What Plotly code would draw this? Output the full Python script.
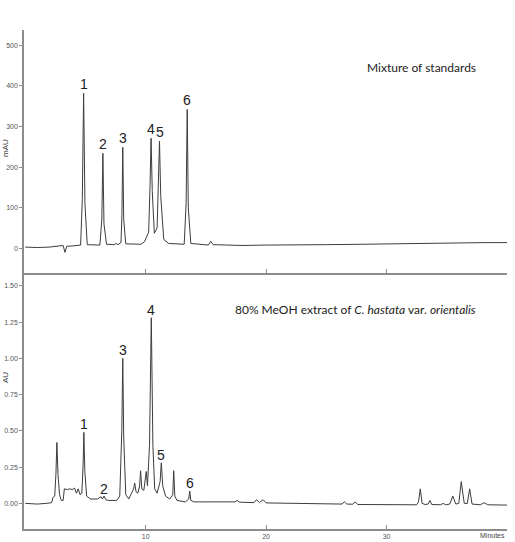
import plotly.graph_objects as go

# ---- data ----
std_time = [
    0.0, 1.0, 2.0, 2.8, 3.15, 3.3, 3.45, 4.0, 4.6, 4.74,
    4.85, 4.96, 5.15, 6.2, 6.36, 6.45, 6.54, 6.75, 7.4, 7.55,
    7.7, 7.95, 8.03, 8.1, 8.18, 8.35, 9.6, 9.9, 10.25, 10.36,
    10.45, 10.55, 10.72, 10.95, 11.06, 11.15, 11.25, 11.5, 11.9, 13.2,
    13.36, 13.45, 13.54, 13.75, 15.2, 15.4, 15.6, 18.0, 20.0, 22.0,
    25.0, 28.0, 30.0, 33.0, 36.0, 38.0, 40.0]
std_mau = [
    3, 2, 3, 5, 7, -10, 5, 6, 8, 120,
    382, 110, 9, 8, 70, 234, 60, 10, 9, 12,
    9, 14, 80, 249, 70, 11, 10, 16, 40, 150,
    271, 140, 37, 50, 150, 264, 130, 22, 12, 10,
    110, 342, 100, 12, 8, 17, 9, 7, 8, 9,
    9, 10, 11, 12, 13, 14, 14]

ext_time = [
    0.0, 1.0, 1.8, 2.2, 2.3, 2.45, 2.55, 2.63, 2.72, 2.85,
    3.0, 3.15, 3.25, 3.5, 3.7, 3.9, 4.1, 4.25, 4.4, 4.55,
    4.7, 4.8, 4.87, 4.95, 5.1, 5.4, 6.0, 6.3, 6.42, 6.55,
    6.7, 6.9, 7.6, 7.85, 8.02, 8.1, 8.18, 8.35, 8.6, 8.8,
    9.0, 9.09, 9.2, 9.35, 9.5, 9.58, 9.68, 9.85, 9.97, 10.05,
    10.15, 10.32, 10.47, 10.6, 10.75, 10.95, 11.2, 11.3, 11.42, 11.65,
    12.0, 12.25, 12.33, 12.42, 12.6, 13.3, 13.58, 13.66, 13.75, 14.0,
    15.0, 17.4, 17.6, 17.8, 19.0, 19.2, 19.45, 19.75, 20.0, 22.0,
    24.0, 26.3, 26.5, 26.7, 27.2, 27.4, 27.6, 30.0, 32.5, 32.65,
    32.8, 32.95, 33.2, 33.45, 33.6, 33.75, 34.5, 34.7, 34.9, 35.25,
    35.5, 35.75, 36.0, 36.2, 36.45, 36.7, 36.9, 37.1, 37.8, 38.1,
    38.4, 40.0]
ext_au = [
    0.0, -0.005, 0.0, 0.005, 0.04, 0.05, 0.2, 0.42, 0.2, 0.06,
    0.02, 0.02, 0.10, 0.095, 0.10, 0.095, 0.105, 0.07, 0.10, 0.06,
    0.07, 0.25, 0.49, 0.22, 0.05, 0.03, 0.03, 0.045, 0.03, 0.05,
    0.025, 0.02, 0.02, 0.05, 0.5, 1.00, 0.45, 0.06, 0.03, 0.06,
    0.10, 0.14, 0.08, 0.07, 0.12, 0.225, 0.10, 0.09, 0.15, 0.22,
    0.12, 0.4, 1.28, 0.4, 0.10, 0.07, 0.15, 0.28, 0.12, 0.05,
    0.03, 0.06, 0.225, 0.05, 0.02, 0.01, 0.03, 0.085, 0.02, 0.01,
    0.01, 0.01, 0.02, 0.008, 0.005, 0.025, 0.005, 0.025, 0.003, 0.0,
    -0.002, -0.005, 0.01, -0.005, -0.006, 0.01, -0.008, -0.01, -0.01, 0.01,
    0.10, 0.0, -0.008, -0.005, 0.02, -0.008, -0.01, 0.0, -0.01, -0.005,
    0.05, -0.005, 0.0, 0.15, 0.0, -0.002, 0.10, -0.005, -0.01, 0.005,
    -0.01, -0.012]

peak_labels = ["1", "2", "3", "4", "5", "6"]
std_peak_times = [4.85, 6.45, 8.1, 10.45, 11.15, 13.45]
std_peak_heights = [382, 234, 249, 271, 264, 342]
ext_peak_times = [4.87, 6.5, 8.1, 10.47, 11.3, 13.66]
ext_peak_heights = [0.49, 0.045, 1.00, 1.28, 0.28, 0.085]

x_ticks = [10, 20, 30]
std_y_ticks = [0, 100, 200, 300, 400, 500]
ext_y_ticks = [0, 0.25, 0.5, 0.75, 1.0, 1.25, 1.5]

top_text = "Mixture of standards"
bottom_text = "80% MeOH extract of <i>C. hastata</i> var. <i>orientalis</i>"

# ---- figure ----
LINE = "#3c3c3c"
AXIS = "#8c8c8c"
TICKFONT = dict(family="Liberation Sans Narrow, Liberation Sans, Arial", size=7, color="#555555")

fig = go.Figure()
fig.add_trace(go.Scatter(x=std_time, y=std_mau, mode="lines",
                         line=dict(color=LINE, width=1), xaxis="x", yaxis="y",
                         hoverinfo="skip", showlegend=False))
fig.add_trace(go.Scatter(x=ext_time, y=ext_au, mode="lines",
                         line=dict(color=LINE, width=1), xaxis="x2", yaxis="y2",
                         hoverinfo="skip", showlegend=False))

ML, MR, MT, MB = 24, 8, 30, 13
split = 256 / 499

xcommon = dict(range=[-0.1, 40], showgrid=False, zeroline=False, showline=True,
               linecolor=AXIS, linewidth=1.5, ticks="inside", ticklen=4,
               tickcolor=AXIS, tickvals=[10, 20, 30, 40], tickfont=TICKFONT,
               automargin=False)
ycommon = dict(showgrid=False, zeroline=False, showline=True, linecolor=AXIS,
               linewidth=1.5, ticks="outside", ticklen=3, tickcolor=AXIS,
               tickfont=TICKFONT, automargin=False)

fig.update_layout(
    width=515, height=542,
    margin=dict(l=ML, r=MR, t=MT, b=MB, autoexpand=False),
    paper_bgcolor="white", plot_bgcolor="white",
    xaxis=dict(**xcommon, domain=[0, 1], anchor="y", showticklabels=False),
    yaxis=dict(**ycommon, domain=[split, 1], anchor="x", range=[-60.8, 537.7],
               tickvals=std_y_ticks),
    xaxis2=dict(**xcommon, domain=[0, 1], anchor="y2", showticklabels=True,
                ticktext=[str(v) for v in x_ticks] + [""]),
    yaxis2=dict(**ycommon, domain=[0, split], anchor="x2", range=[-0.177, 1.589],
                tickvals=ext_y_ticks, tickformat=".2f"),
)
fig.layout.xaxis2.tickvals = x_ticks + [40]

annotations = []
for lab, t, h in zip(peak_labels, std_peak_times, std_peak_heights):
    annotations.append(dict(x=t, y=h, xref="x", yref="y", text=lab, showarrow=False,
                            xanchor="center", yanchor="middle", yshift=9,
                            font=dict(family="Liberation Sans, Arial", size=14, color="#222222")))
for lab, t, h in zip(peak_labels, ext_peak_times, ext_peak_heights):
    annotations.append(dict(x=t, y=h, xref="x2", yref="y2", text=lab, showarrow=False,
                            xanchor="center", yanchor="middle", yshift=8,
                            font=dict(family="Liberation Sans, Arial", size=14, color="#222222")))

pw = 515 - ML - MR
annotations += [
    dict(x=(421.7 - ML) / pw, y=0.925, xref="paper", yref="paper", text=top_text,
         showarrow=False, xanchor="center", yanchor="middle",
         font=dict(family="Lato, Open Sans", size=12, color="#222222")),
    dict(x=(355 - ML) / pw, y=0.439, xref="paper", yref="paper", text=bottom_text,
         showarrow=False, xanchor="center", yanchor="middle",
         font=dict(family="Lato, Open Sans", size=12, color="#222222")),
    dict(x=(5 - ML) / pw, y=0.7635, xref="paper", yref="paper", text="mAU",
         textangle=-90, showarrow=False, xanchor="center", yanchor="middle",
         font=dict(family="Liberation Sans, Arial", size=8, color="#333333")),
    dict(x=(5 - ML) / pw, y=0.3026, xref="paper", yref="paper", text="AU",
         textangle=-90, showarrow=False, xanchor="center", yanchor="middle",
         font=dict(family="Liberation Sans, Arial", size=8, color="#333333")),
    dict(x=1.0, y=0, xref="paper", yref="paper", text="Minutes", showarrow=False,
         xanchor="right", yanchor="top", yshift=-1,
         font=dict(family="Liberation Sans Narrow, Liberation Sans, Arial", size=7, color="#444444")),
]
fig.update_layout(annotations=annotations)

fig.write_html("out.html")
